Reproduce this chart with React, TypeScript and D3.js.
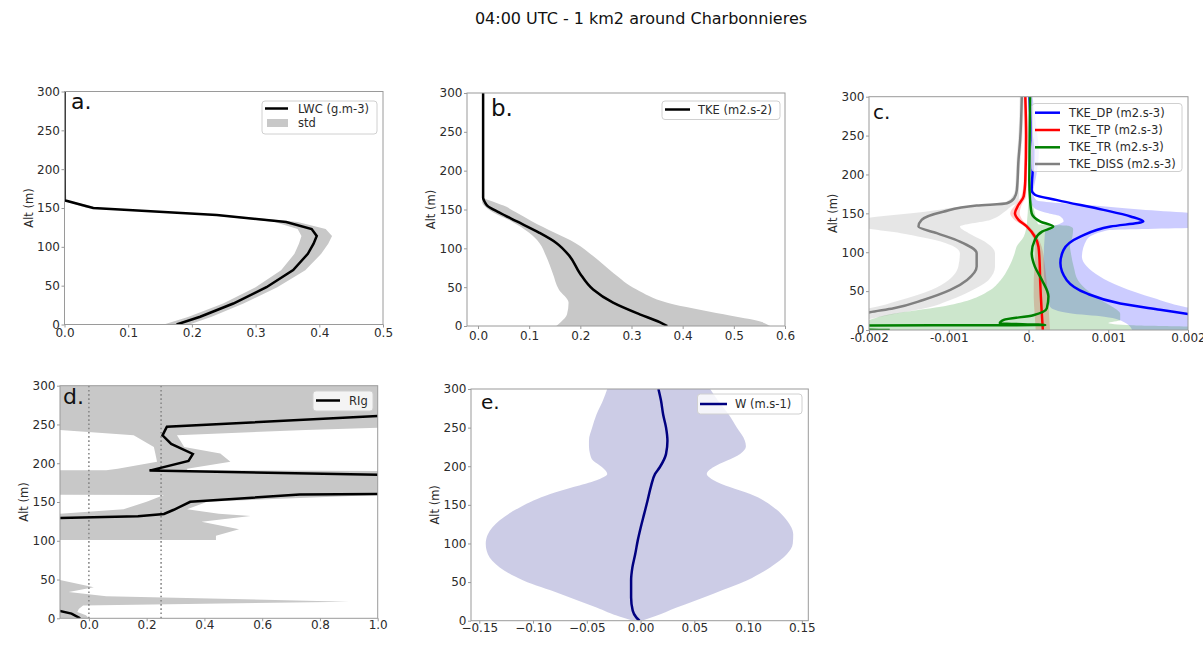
import { useEffect, useRef } from "react";
import * as d3 from "d3";

const WIDTH = 1203;
const HEIGHT = 654;
const FONT = "'DejaVu Sans', sans-serif";
const SPINE = "#9a9a9a";
const TEXT = "#2b2b2b";
const BAND = "#c8c8c8";

const altTicks = [0, 50, 100, 150, 200, 250, 300];

// a. LWC (g.m-3)
const lwcAlt = [0, 10, 27, 48, 70, 91, 104, 114, 123, 132, 141, 150, 160, 200, 250, 300];
const lwcMean = [0.176, 0.213, 0.265, 0.317, 0.359, 0.382, 0.391, 0.396, 0.388, 0.348, 0.239, 0.045, 0, 0, 0, 0];
const lwcStd = [0.02, 0.018, 0.016, 0.017, 0.019, 0.021, 0.023, 0.024, 0.022, 0.018, 0.012, 0.01, 0.003, 0, 0, 0];

// b. TKE (m2.s-2)
const tkeAlt = [0, 5, 15, 30, 47, 68, 90, 107, 120, 135, 146, 155, 160, 165, 300];
const tkeMean = [0.37, 0.355, 0.316, 0.264, 0.225, 0.199, 0.179, 0.153, 0.12, 0.075, 0.042, 0.018, 0.013, 0.01, 0.01];
const tkeLo = [0.153, 0.162, 0.174, 0.177, 0.158, 0.146, 0.133, 0.12, 0.1, 0.065, 0.03, 0.012, 0.008, 0.008, 0.01];
const tkeHi = [0.571, 0.555, 0.48, 0.37, 0.31, 0.265, 0.225, 0.19, 0.15, 0.105, 0.075, 0.05, 0.03, 0.012, 0.01];

// c. TKE budget terms, in 1e-3 m2.s-3
const dpAlt = [0, 10, 20.6, 26, 34, 47, 64, 86, 103, 120, 133, 139.5, 146, 154.5, 167, 174, 180, 193, 200, 230, 250, 300];
const dp = [3.5, 2.6, 2.0, 1.65, 1.15, 0.73, 0.48, 0.4, 0.44, 0.65, 1.03, 1.44, 1.28, 0.94, 0.36, 0.08, 0.04, 0.045, 0.05, 0.06, 0.04, 0.013];
const dpBandAlt = [0, 10, 17, 21.5, 30, 41, 56, 82, 94, 116, 128, 133, 140, 146, 150, 155, 160, 167, 175, 200, 230, 260, 300];
const dpLo = [1.3, 1.2, 0.95, 0.52, 0.27, 0.24, 0.21, 0.19, 0.19, 0.2, 0.21, 0.3, 0.44, 0.4, 0.25, 0.1, 0.05, 0.03, 0.02, 0.03, 0.0, 0.0, 0.0];
const dpHi = [3, 3, 3, 2.5, 1.95, 1.57, 1.15, 0.73, 0.67, 0.73, 0.98, 2.5, 2.5, 2.5, 2.1, 1.4, 0.83, 0.1, 0.06, 0.1, 0.13, 0.1, 0.05];

const tpAlt = [0, 21, 43, 64, 86, 107, 120, 133, 141.6, 150, 161, 172, 193, 250, 300];
const tp = [0.18, 0.167, 0.155, 0.146, 0.14, 0.125, 0.08, -0.02, -0.125, -0.17, -0.125, -0.06, -0.04, -0.03, -0.04];
const tpStd = [0.09, 0.09, 0.09, 0.08, 0.06, 0.04, 0.03, 0.03, 0.05, 0.06, 0.04, 0.03, 0.02, 0.02, 0.02];

const trAlt = [0, 2, 5.6, 6.4, 8.6, 13, 19, 28, 43, 64, 81.5, 98.7, 116, 126.6, 133, 139.5, 150, 167, 193, 250, 300];
const tr = [-1.74, -2.6, -2.6, 0.21, -0.36, -0.31, 0.06, 0.23, 0.25, 0.17, 0.08, 0.04, 0.08, 0.17, 0.31, 0.15, 0.04, 0.02, 0.01, 0.015, 0.02];
const trBandAlt = [0, 3, 6, 9, 13, 21, 30, 39, 50, 64, 80, 100, 107, 120, 130, 134, 136, 150, 165, 170];
const trLo = [-2.5, -2.5, -2.3, -2.1, -2.0, -1.7, -1.1, -0.73, -0.5, -0.35, -0.25, -0.17, -0.15, -0.06, -0.03, -0.02, -0.02, -0.01, 0.0, 0.015];
const trHi = [2.5, 2.5, 1.3, 1.0, 1.15, 1.15, 1.05, 0.9, 0.75, 0.62, 0.57, 0.53, 0.52, 0.55, 0.56, 0.5, 0.12, 0.08, 0.04, 0.02];

const dissAlt = [0, 8, 15, 22.7, 27.9, 38.6, 51.5, 64.4, 81.5, 98.7, 113.7, 124.5, 133, 141.6, 152, 160, 163, 169.5, 180, 219, 244, 300];
const diss = [-3.0, -2.8, -2.3, -1.99, -1.69, -1.32, -0.98, -0.77, -0.65, -0.65, -0.86, -1.15, -1.38, -1.34, -1.07, -0.65, -0.27, -0.18, -0.146, -0.125, -0.105, -0.084];
const dissLo = [-3.3, -3.1, -2.6, -2.3, -2.0, -1.6, -1.22, -1.0, -0.88, -0.86, -1.1, -1.6, -2.1, -2.1, -1.3, -0.7, -0.35, -0.22, -0.17, -0.15, -0.13, -0.11];
const dissHi = [-2.7, -2.3, -1.95, -1.57, -1.3, -0.98, -0.7, -0.5, -0.42, -0.42, -0.55, -0.75, -0.86, -0.48, -0.3, -0.2, -0.15, -0.12, -0.12, -0.1, -0.08, -0.06];

// d. Rig
const rigAlt = [0, 6, 11, 15, 125, 131.5, 134.5, 140, 150.2, 159.7, 163, 182, 190.5, 203, 212, 225, 236, 247, 261, 270, 300];
const rig = [-0.03, -0.06, -0.12, -0.3, -0.6, 0.17, 0.26, 0.294, 0.351, 0.73, 2.0, 1.5, 0.21, 0.345, 0.36, 0.285, 0.255, 0.27, 1.0, 3.0, 3.0];
const rigBandAlt = [0, 4, 8, 12, 16.5, 21.5, 28.5, 34, 40, 49.5, 50, 100.5, 101, 106.6, 114.8, 124.6, 132, 135, 140.5, 150.4, 159, 160.5, 188.5, 191, 193, 202, 212.7, 221, 236, 243, 246, 247, 300];
const rigBandLo = [-2, -2, -2, -2, -2, -2, -2, -2, -2, -2, null, null, -2, -2, -2, -2, -2, -0.1, 0.12, 0.2, 0.26, -2, -2, 0.06, 0.1, 0.236, 0.23, 0.225, 0.155, -0.1, -2, -2, -2];
const rigBandHi = [0.0, -0.01, -0.04, -0.035, -0.02, 0.9, 0.06, -0.07, 0.017, -0.1, null, null, 0.44, 0.44, 0.52, 0.39, 0.56, 0.45, 0.34, 0.41, 1.0, 2, 2, 0.34, 0.34, 0.49, 0.455, 0.33, 0.305, 0.75, 1.02, 2, 2];
const rigThresholds = [0, 0.25];

// e. W (m.s-1)
const wAlt = [0, 4.3, 13, 30, 52, 69, 86, 104, 121, 138, 155, 173, 190, 199, 216, 233, 250, 267, 285, 300];
const wMean = [-0.001, -0.004, -0.0073, -0.0088, -0.0088, -0.0076, -0.005, -0.0026, 0.0002, 0.0033, 0.0064, 0.0095, 0.0135, 0.018, 0.0237, 0.025, 0.0237, 0.021, 0.019, 0.0166];
const wBandAlt = [0, 5, 17, 35, 52, 69, 86, 100, 112, 130, 147, 164, 173, 182, 190, 199, 207, 216, 226, 233, 250, 267, 285, 300];
const wLo = [-0.0067, -0.019, -0.041, -0.075, -0.109, -0.131, -0.142, -0.144, -0.142, -0.131, -0.112, -0.084, -0.0625, -0.041, -0.031, -0.036, -0.044, -0.047, -0.048, -0.048, -0.045, -0.041, -0.035, -0.031];
const wHi = [0.001, 0.012, 0.0336, 0.0678, 0.0988, 0.1205, 0.136, 0.1416, 0.142, 0.136, 0.1236, 0.102, 0.083, 0.068, 0.0616, 0.068, 0.08, 0.0926, 0.098, 0.097, 0.0895, 0.082, 0.072, 0.0647];

const boxA = { left: 64.5, right: 383, top: 91.5, bottom: 324.5 };
const boxB = { left: 467, right: 785, top: 93, bottom: 326 };
const boxC = { left: 869, right: 1188, top: 96.7, bottom: 330 };
const boxD = { left: 60, right: 377.7, top: 385.7, bottom: 618.3 };
const boxE = { left: 471, right: 808.3, top: 389, bottom: 620.7 };

const idx = (n) => d3.range(n);

const profileLine = (x, y, alt, vals, curve, k = 1) =>
  d3.line().x((i) => x(vals[i] * k)).y((i) => y(alt[i])).curve(curve)(idx(alt.length));

const profileArea = (x, y, alt, lo, hi, curve, k = 1) =>
  d3
    .area()
    .defined((i) => lo[i] !== null && hi[i] !== null)
    .y((i) => y(alt[i]))
    .x0((i) => x(lo[i] * k))
    .x1((i) => x(hi[i] * k))
    .curve(curve)(idx(alt.length));

const setupPanel = (svg, id, box, xDomain) => {
  const x = d3.scaleLinear().domain(xDomain).range([box.left, box.right]);
  const y = d3.scaleLinear().domain([0, 300]).range([box.bottom, box.top]);
  svg
    .append("clipPath")
    .attr("id", id)
    .append("rect")
    .attr("x", box.left)
    .attr("y", box.top)
    .attr("width", box.right - box.left)
    .attr("height", box.bottom - box.top);
  const plot = svg.append("g").attr("clip-path", `url(#${id})`);
  return { x, y, plot };
};

const drawAxes = (svg, box, x, y, xTicks, xFormat, xPad, tag, tagPos, tagSize) => {
  svg
    .append("g")
    .attr("transform", `translate(0,${box.bottom})`)
    .call(d3.axisBottom(x).tickValues(xTicks).tickFormat(xFormat).tickSizeOuter(0).tickSize(3).tickPadding(xPad))
    .call((g) => g.select(".domain").remove())
    .call((g) => g.selectAll("line").attr("stroke", SPINE))
    .call((g) => g.selectAll("text").attr("fill", TEXT))
    .attr("font-size", 12)
    .attr("font-family", FONT);

  svg
    .append("g")
    .attr("transform", `translate(${box.left},0)`)
    .call(d3.axisLeft(y).tickValues(altTicks).tickFormat(d3.format("d")).tickSizeOuter(0).tickSize(3).tickPadding(1.5))
    .call((g) => g.select(".domain").remove())
    .call((g) => g.selectAll("line").attr("stroke", SPINE))
    .call((g) => g.selectAll("text").attr("fill", TEXT))
    .attr("font-size", 12)
    .attr("font-family", FONT);

  svg
    .append("rect")
    .attr("x", box.left)
    .attr("y", box.top)
    .attr("width", box.right - box.left)
    .attr("height", box.bottom - box.top)
    .attr("fill", "none")
    .attr("stroke", SPINE)
    .attr("stroke-width", 1);

  svg
    .append("text")
    .attr("transform", `translate(${box.left - 36},${(box.top + box.bottom) / 2}) rotate(-90)`)
    .attr("text-anchor", "middle")
    .attr("dy", "0.35em")
    .attr("font-size", 11.5)
    .attr("font-family", FONT)
    .attr("fill", TEXT)
    .text("Alt (m)");

  svg
    .append("text")
    .attr("x", tagPos[0])
    .attr("y", tagPos[1])
    .attr("font-size", tagSize)
    .attr("font-family", FONT)
    .attr("fill", "#111")
    .text(tag);
};

const drawLegend = (svg, rect, entries) => {
  const [x0, y0, x1, y1] = rect;
  svg
    .append("rect")
    .attr("x", x0)
    .attr("y", y0)
    .attr("width", x1 - x0)
    .attr("height", y1 - y0)
    .attr("rx", 3)
    .attr("fill", "white")
    .attr("fill-opacity", 0.8)
    .attr("stroke", "#d0d0d0");
  entries.forEach((entry) => {
    if (entry.patch) {
      svg
        .append("rect")
        .attr("x", entry.lx0 + 2)
        .attr("y", entry.y - 4)
        .attr("width", entry.lx1 - entry.lx0 - 2)
        .attr("height", 8)
        .attr("fill", entry.color);
    } else {
      svg
        .append("line")
        .attr("x1", entry.lx0)
        .attr("x2", entry.lx1)
        .attr("y1", entry.y)
        .attr("y2", entry.y)
        .attr("stroke", entry.color)
        .attr("stroke-width", 2.5);
    }
    svg
      .append("text")
      .attr("x", entry.tx)
      .attr("y", entry.y + 4)
      .attr("font-size", 11.5)
      .attr("font-family", FONT)
      .attr("fill", TEXT)
      .text(entry.label);
  });
};

const renderA = (svg) => {
  const { x, y, plot } = setupPanel(svg, "clip-a", boxA, [0, 0.5]);
  const lo = lwcMean.map((v, i) => v - lwcStd[i]);
  const hi = lwcMean.map((v, i) => v + lwcStd[i]);
  plot.append("path").attr("d", profileArea(x, y, lwcAlt, lo, hi, d3.curveLinear)).attr("fill", BAND);
  plot
    .append("path")
    .attr("d", profileLine(x, y, lwcAlt, lwcMean, d3.curveLinear))
    .attr("fill", "none")
    .attr("stroke", "black")
    .attr("stroke-width", 2.5);
  drawAxes(svg, boxA, x, y, [0, 0.1, 0.2, 0.3, 0.4, 0.5], d3.format(".1f"), 0.5, "a.", [71, 109], 22);
  drawLegend(svg, [262, 101, 377, 134], [
    { label: "LWC (g.m-3)", color: "black", y: 108.5, lx0: 265, lx1: 288, tx: 298 },
    { label: "std", color: BAND, y: 123, lx0: 265, lx1: 288, tx: 298, patch: true },
  ]);
};

const renderB = (svg) => {
  const { x, y, plot } = setupPanel(svg, "clip-b", boxB, [-0.0215, 0.6]);
  plot.append("path").attr("d", profileArea(x, y, tkeAlt, tkeLo, tkeHi, d3.curveMonotoneY)).attr("fill", BAND);
  plot
    .append("path")
    .attr("d", profileLine(x, y, tkeAlt, tkeMean, d3.curveMonotoneY))
    .attr("fill", "none")
    .attr("stroke", "black")
    .attr("stroke-width", 2.5);
  drawAxes(svg, boxB, x, y, [0, 0.1, 0.2, 0.3, 0.4, 0.5, 0.6], d3.format(".1f"), 2.5, "b.", [491, 116], 23);
  drawLegend(svg, [662, 101, 780, 119.5], [
    { label: "TKE (m2.s-2)", color: "black", y: 109.5, lx0: 665, lx1: 690, tx: 698 },
  ]);
};

const renderC = (svg) => {
  const { x, y, plot } = setupPanel(svg, "clip-c", boxC, [-0.002, 0.002]);
  const k = 1e-3;
  const tpLo = tp.map((v, i) => v - tpStd[i]);
  const tpHi = tp.map((v, i) => v + tpStd[i]);
  const bands = [
    { alt: dpBandAlt, lo: dpLo, hi: dpHi, color: "blue" },
    { alt: tpAlt, lo: tpLo, hi: tpHi, color: "red" },
    { alt: trBandAlt, lo: trLo, hi: trHi, color: "green" },
    { alt: dissAlt, lo: dissLo, hi: dissHi, color: "gray" },
  ];
  bands.forEach((band) => {
    plot
      .append("path")
      .attr("d", profileArea(x, y, band.alt, band.lo, band.hi, d3.curveMonotoneY, k))
      .attr("fill", band.color)
      .attr("fill-opacity", 0.2);
  });
  const lines = [
    { alt: dpAlt, vals: dp, color: "blue" },
    { alt: tpAlt, vals: tp, color: "red" },
    { alt: trAlt, vals: tr, color: "green" },
    { alt: dissAlt, vals: diss, color: "gray" },
  ];
  lines.forEach((line) => {
    plot
      .append("path")
      .attr("d", profileLine(x, y, line.alt, line.vals, d3.curveMonotoneY, k))
      .attr("fill", "none")
      .attr("stroke", line.color)
      .attr("stroke-width", 2.5);
  });
  const labels = { "-0.002": "-0.002", "-0.001": "-0.001", "0": "0.", "0.001": "0.001", "0.002": "0.002" };
  drawAxes(svg, boxC, x, y, [-0.002, -0.001, 0, 0.001, 0.002], (d) => labels[String(d)], 0.5, "c.", [873, 119], 20);
  drawLegend(svg, [1032, 103.5, 1182, 171.5], [
    { label: "TKE_DP (m2.s-3)", color: "blue", y: 112.7, lx0: 1035, lx1: 1060, tx: 1069 },
    { label: "TKE_TP (m2.s-3)", color: "red", y: 130, lx0: 1035, lx1: 1060, tx: 1069 },
    { label: "TKE_TR (m2.s-3)", color: "green", y: 147.3, lx0: 1035, lx1: 1060, tx: 1069 },
    { label: "TKE_DISS (m2.s-3)", color: "gray", y: 164, lx0: 1035, lx1: 1060, tx: 1069 },
  ]);
};

const renderD = (svg) => {
  const { x, y, plot } = setupPanel(svg, "clip-d", boxD, [-0.1, 1.0]);
  plot.append("path").attr("d", profileArea(x, y, rigBandAlt, rigBandLo, rigBandHi, d3.curveLinear)).attr("fill", BAND);
  plot
    .selectAll("line.threshold")
    .data(rigThresholds)
    .join("line")
    .attr("class", "threshold")
    .attr("x1", (d) => x(d))
    .attr("x2", (d) => x(d))
    .attr("y1", boxD.top)
    .attr("y2", boxD.bottom)
    .attr("stroke", "#888")
    .attr("stroke-width", 1.6)
    .attr("stroke-dasharray", "1.6,2.6");
  plot
    .append("path")
    .attr("d", profileLine(x, y, rigAlt, rig, d3.curveLinear))
    .attr("fill", "none")
    .attr("stroke", "black")
    .attr("stroke-width", 2.5);
  drawAxes(svg, boxD, x, y, [0, 0.2, 0.4, 0.6, 0.8, 1.0], d3.format(".1f"), -1, "d.", [63, 404], 22);
  drawLegend(svg, [313, 391, 373, 411], [{ label: "RIg", color: "black", y: 400.5, lx0: 316, lx1: 340, tx: 349 }]);
};

const renderE = (svg) => {
  const { x, y, plot } = setupPanel(svg, "clip-e", boxE, [-0.1577, 0.156]);
  plot
    .append("path")
    .attr("d", profileArea(x, y, wBandAlt, wLo, wHi, d3.curveMonotoneY))
    .attr("fill", "navy")
    .attr("fill-opacity", 0.2);
  plot
    .append("path")
    .attr("d", profileLine(x, y, wAlt, wMean, d3.curveMonotoneY))
    .attr("fill", "none")
    .attr("stroke", "navy")
    .attr("stroke-width", 2.5);
  drawAxes(svg, boxE, x, y, [-0.15, -0.1, -0.05, 0, 0.05, 0.1, 0.15], d3.format(".2f"), -0.5, "e.", [481, 409], 20);
  drawLegend(svg, [697.5, 394, 802, 414], [{ label: "W (m.s-1)", color: "navy", y: 404, lx0: 700, lx1: 727, tx: 735 }]);
};

export default function App() {
  const ref = useRef(null);

  useEffect(() => {
    document.body.style.margin = "0";
    const svg = d3.select(ref.current);
    svg.selectAll("*").remove();

    svg.append("rect").attr("width", WIDTH).attr("height", HEIGHT).attr("fill", "white");
    svg
      .append("text")
      .attr("x", 641)
      .attr("y", 24)
      .attr("text-anchor", "middle")
      .attr("font-size", 16)
      .attr("font-family", FONT)
      .attr("fill", "#111")
      .text("04:00 UTC - 1 km2 around Charbonnieres");

    renderA(svg);
    renderB(svg);
    renderC(svg);
    renderD(svg);
    renderE(svg);
  }, []);

  return <svg ref={ref} width={WIDTH} height={HEIGHT} style={{ display: "block" }} />;
}
